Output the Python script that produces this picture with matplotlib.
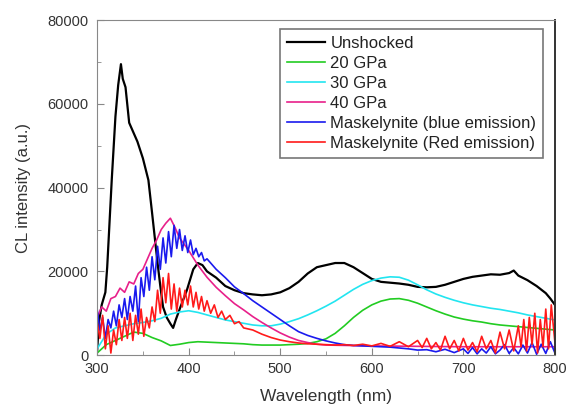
# CL spectra of shocked and unshocked samples

import matplotlib.pyplot as plt
from matplotlib.ticker import MultipleLocator

plt.rcParams["font.family"] = ["Liberation Sans", "DejaVu Sans"]

# Unshocked (black)
black_wl = [300, 302, 305, 309, 311, 316, 320, 323, 326, 328,
            331, 335, 340, 344, 350, 356, 360, 363, 366, 369,
            372, 376, 380, 383, 386, 391, 398, 405, 410, 415,
            420, 430, 440, 450, 460, 470, 480, 490, 500, 510,
            520, 530, 540, 550, 560, 570, 580, 590, 600, 610,
            620, 630, 640, 650, 660, 670, 680, 690, 700, 710,
            720, 730, 740, 750, 755, 760, 770, 780, 790, 795,
            800]
black_cl = [1000, 8000, 12000, 15000, 21000, 42000, 57000, 64500, 69500, 66000,
            64000, 55500, 53000, 51000, 47000, 41800, 34000, 28000, 22000, 16500,
            11500, 9000, 7500, 6500, 8500, 11500, 15500, 20500, 22000, 21500,
            20000, 18500, 16500, 15500, 14800, 14500, 14300, 14500, 15000, 16000,
            17500, 19500, 21000, 21500, 22000, 22000, 21000, 19600, 18200, 17500,
            17300, 17100, 16800, 16300, 16200, 16300, 16800, 17500, 18200, 18700,
            19000, 19300, 19200, 19600, 20200, 19000, 17900, 16500, 14800, 13500,
            12000]

# 20, 30 GPa share a 10 nm grid
grid_wl = list(range(300, 801, 10))
gpa20_cl = [500, 2500, 3500, 4500, 5500, 5200, 4200, 3400, 2300, 2600,
            3000, 3200, 3100, 3000, 2900, 2800, 2700, 2500, 2400, 2400,
            2400, 2500, 2600, 2800, 3200, 3900, 5200, 7000, 9000, 10700,
            12000, 12900, 13400, 13500, 13100, 12400, 11500, 10600, 9800, 9100,
            8600, 8200, 7900, 7500, 7200, 7000, 6800, 6600, 6400, 6200,
            6000]
gpa30_cl = [1500, 5000, 6500, 7000, 7500, 7800, 8200, 8800, 9800, 10300,
            10600, 10200, 9600, 9000, 8400, 8000, 7600, 7200, 7000, 7000,
            7400, 8000, 8700, 9600, 10600, 11700, 12900, 14300, 15700, 16900,
            17800, 18400, 18700, 18600, 17900, 16800, 15600, 14600, 13800, 13100,
            12500, 12000, 11600, 11200, 10900, 10500, 10100, 9600, 9200, 8800,
            8400]

# 40 GPa (magenta)
gpa40_wl = [300, 305, 310, 315, 320, 325, 330, 335, 340, 345,
            350, 355, 360, 365, 370, 375, 380, 385, 390, 400,
            410, 420, 430, 440, 450, 460, 470, 480, 490, 500,
            510, 520, 530, 540, 550, 600, 650, 700, 750, 800]
gpa40_cl = [9000, 11500, 10500, 13500, 14000, 16000, 15000, 17500, 17000, 19500,
            20500, 23000, 25500, 27500, 30000, 31500, 32700, 30500, 28000, 25000,
            21500, 18600, 16200, 14200, 12300, 10800, 9200, 7800, 6500, 5300,
            4300, 3500, 3000, 2600, 2400, 2200, 2100, 2000, 2000, 2000]

# Maskelynite blue emission
blue_wl = [300, 303, 306, 309, 312, 315, 318, 321, 324, 327,
           330, 333, 336, 339, 342, 345, 348, 351, 354, 357,
           360, 363, 366, 369, 372, 375, 378, 381, 384, 387,
           390, 393, 396, 399, 402, 405, 408, 411, 414, 417,
           420, 430, 440, 450, 460, 470, 480, 490, 500, 510,
           520, 530, 540, 550, 560, 570, 580, 590, 600, 610,
           620, 630, 640, 650, 660, 670, 680, 690, 700, 705,
           710, 715, 720, 725, 730, 735, 740, 745, 750, 755,
           760, 765, 770, 775, 780, 785, 790, 795, 800]
blue_cl = [11000, 6000, 9000, 4000, 8500, 6500, 10500, 7000, 12000, 9000,
           13500, 8500, 14000, 10500, 16500, 8000, 18500, 14000, 21000, 15500,
           23500, 18000, 26000, 20500, 28000, 22000, 29500, 23500, 31000, 25500,
           30000, 25000, 28500, 24500, 27500, 24000, 25500, 23500, 24500, 22500,
           23000, 20500, 18500, 16300, 14700, 13000, 11500, 10000, 8500, 7000,
           5600, 4700, 4000, 3400, 2900, 2500, 2300, 2200, 2100, 2000,
           1900, 1700, 1500, 1200, 1300, 800, 1400, 600, 1500, 400,
           1800, 300, 1500, 500, 2000, 300, 1200, 2500, 400, 1800,
           300, 2400, 500, 3000, 200, 2600, 400, 3200, 500]

# Maskelynite red emission
red_wl = [300, 303, 306, 309, 312, 315, 318, 321, 324, 327,
          330, 333, 336, 339, 342, 345, 348, 351, 354, 357,
          360, 363, 366, 369, 372, 375, 378, 381, 384, 387,
          390, 393, 396, 399, 402, 405, 408, 411, 414, 417,
          420, 424, 428, 432, 436, 440, 445, 450, 455, 460,
          470, 480, 490, 500, 510, 520, 530, 540, 550, 560,
          570, 580, 590, 600, 610, 620, 630, 640, 650, 655,
          660, 665, 670, 675, 680, 685, 690, 695, 700, 705,
          710, 715, 720, 725, 730, 735, 740, 745, 750, 755,
          760, 763, 766, 769, 772, 775, 778, 781, 784, 787,
          790, 793, 796, 800]
red_cl = [8000, 4000, 9500, 1500, 7000, 500, 6000, 2500, 8500, 3500,
          9000, 4000, 10000, 3500, 9500, 5000, 11000, 4500, 9000, 6500,
          11500, 8000, 15500, 10000, 18500, 12500, 19500, 11000, 17000, 10500,
          16000, 11500, 15500, 12000, 16500, 11500, 15000, 11000, 14000, 10500,
          13000, 10000, 12000, 9000, 10500, 8500, 9500, 7500, 8000, 6500,
          6000, 5000, 4200, 3600, 3200, 2900, 2700, 2600, 2500, 2400,
          2500, 2300, 2600, 2200, 2800, 2100, 3200, 2000, 3500, 1800,
          4000, 1500, 3000, 1200, 4500, 1500, 3500, 1000, 4000, 1200,
          3000, 800, 4500, 1500, 3500, 500, 5500, 1500, 6000, 1000,
          7000, 2000, 8500, 1000, 9000, 2500, 10000, 500, 8500, 2000,
          11000, 1500, 12000, 3000]

labels = ["Unshocked", "20 GPa", "30 GPa", "40 GPa",
          "Maskelynite (blue emission)", "Maskelynite (Red emission)"]
colors = ["black", "#22cc22", "#22e5f0", "#e8208a", "#1a1aee", "#ff1a1a"]


def main():
    fig = plt.figure(figsize=(5.68, 4.04), dpi=100)
    ax = fig.add_axes([0.171, 0.121, 0.806, 0.829])

    series = [
        (black_wl, black_cl),
        (grid_wl, gpa20_cl),
        (grid_wl, gpa30_cl),
        (gpa40_wl, gpa40_cl),
        (blue_wl, blue_cl),
        (red_wl, red_cl),
    ]
    for (wl, cl), lab, col in zip(series, labels, colors):
        lw = 1.6 if col == "black" else 1.2
        ax.plot(wl, cl, color=col, lw=lw, label=lab)

    ax.set_xlim(300, 800)
    ax.set_ylim(0, 80000)
    ax.xaxis.set_major_locator(MultipleLocator(100))
    ax.xaxis.set_minor_locator(MultipleLocator(50))
    ax.yaxis.set_major_locator(MultipleLocator(20000))
    ax.yaxis.set_minor_locator(MultipleLocator(10000))
    ax.tick_params(which="both", direction="in", colors="#888888",
                   labelcolor="#333333", labelsize=10.5)
    ax.tick_params(which="major", length=5)
    ax.tick_params(which="minor", length=3)
    ax.tick_params(axis="x", which="major", pad=5)
    ax.tick_params(axis="y", which="major", pad=6)
    for side in ax.spines.values():
        side.set_color("#888888")
    ax.spines["right"].set_color("#333333")
    ax.spines["right"].set_linewidth(1.4)

    ax.set_xlabel("Wavelength (nm)", fontsize=12.5, color="#333333", labelpad=9)
    ax.set_ylabel("CL intensity (a.u.)", fontsize=12, color="#333333", labelpad=12)

    leg = ax.legend(loc="upper right", bbox_to_anchor=(0.974, 0.973),
                    borderaxespad=0, fontsize=12, handlelength=2.3,
                    handletextpad=0.3, labelspacing=0.3, fancybox=False,
                    borderpad=0.4)
    leg.get_frame().set_edgecolor("#555555")
    leg.get_frame().set_linewidth(1.2)
    for t in leg.get_texts():
        t.set_color("#222222")

    fig.savefig("out.png")


if __name__ == "__main__":
    main()
